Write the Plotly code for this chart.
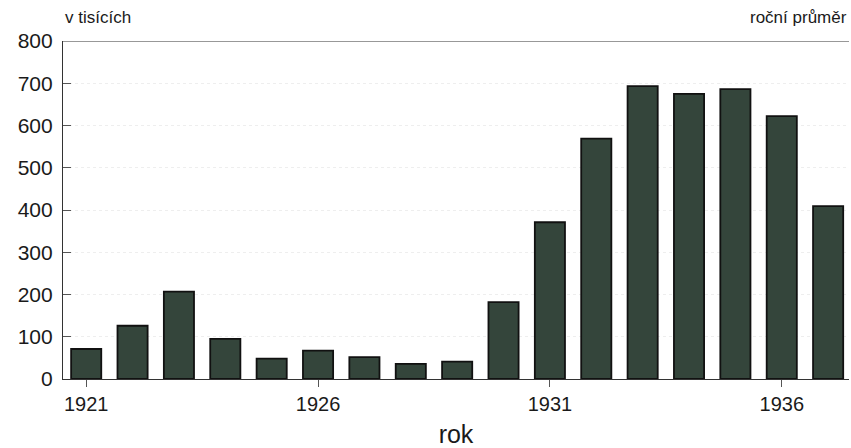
import plotly.graph_objects as go

years = list(range(1921, 1938))
values = [71, 126, 207, 95, 48, 67, 52, 36, 41, 182, 371, 569, 693, 675, 686, 622, 409]
x_ticks = [1921, 1926, 1931, 1936]
y_ticks = [0, 100, 200, 300, 400, 500, 600, 700, 800]

FONT = "Liberation Sans, Arial, sans-serif"

fig = go.Figure()
fig.add_trace(go.Bar(
    x=years, y=values, width=0.65,
    marker=dict(color="#34453b", line=dict(color="#111111", width=1.8)),
    hoverinfo="x+y",
))

fig.update_layout(
    width=851, height=448,
    margin=dict(l=63, r=2, t=41, b=69),
    paper_bgcolor="white", plot_bgcolor="white",
    showlegend=False,
    font=dict(family=FONT, color="#1a1a1a"),
    xaxis=dict(
        range=[1920.5, 1937.45],
        tickvals=x_ticks, ticktext=[str(t) for t in x_ticks],
        ticks="outside", ticklen=7, tickcolor="#555555", tickwidth=1,
        tickfont=dict(size=20, family=FONT, color="#1a1a1a"),
        ticklabelstandoff=0,
        showline=True, linecolor="#333333", linewidth=1.2,
        showgrid=False, zeroline=False,
        title=dict(text="rok", font=dict(size=25, family=FONT, color="#1a1a1a"), standoff=12),
    ),
    yaxis=dict(
        range=[0, 800],
        tickvals=y_ticks,
        ticks="inside", ticklen=8, tickcolor="#555555", tickwidth=1,
        tickfont=dict(size=21, family=FONT, color="#1a1a1a"),
        ticklabelstandoff=5,
        showline=True, linecolor="#333333", linewidth=1.2,
        showgrid=True, gridcolor="#eeeeee", griddash="dot", gridwidth=1,
        zeroline=False,
    ),
    shapes=[dict(type="line", xref="paper", yref="y", x0=0, x1=1, y0=800, y1=800,
                 line=dict(color="#333333", width=1.2))],
    annotations=[
        dict(text="v tisících", xref="paper", yref="paper", x=0, y=1, yshift=12,
             xanchor="left", yanchor="bottom", showarrow=False,
             font=dict(size=17, family=FONT, color="#1a1a1a")),
        dict(text="roční průměr", xref="paper", yref="paper", x=1, y=1, yshift=12,
             xanchor="right", yanchor="bottom", showarrow=False,
             font=dict(size=17, family=FONT, color="#1a1a1a")),
    ],
)

fig.write_html("out.html", config={"displayModeBar": False},
               post_script="document.body.style.margin='0';document.body.style.overflow='hidden';")
